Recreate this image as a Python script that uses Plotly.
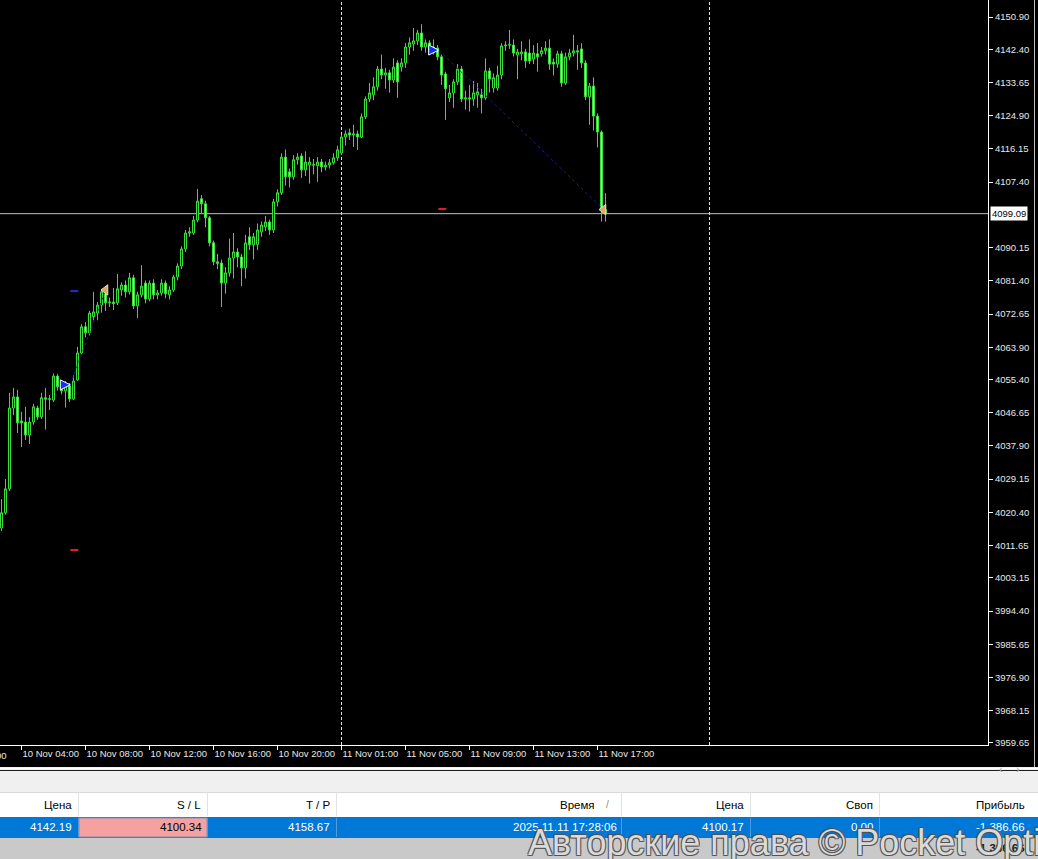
import plotly.graph_objects as go

# ---------------- data ----------------
opens = [4016.3,4020.3,4026.6,4047.9,4050.8,4044.5,4044.2,4040.8,4044.2,4047.9,
         4045.6,4050.6,4050.2,4050.0,4056.3,4054.0,4052.4,4053.7,4050.3,4055.3,
         4062.4,4069.3,4067.7,4072.0,4072.9,4075.0,4078.5,4075.6,4075.8,4075.6,
         4079.0,4080.3,4078.5,4082.2,4074.8,4077.7,4080.8,4076.6,4080.8,4077.7,
         4078.2,4080.8,4077.7,4079.0,4082.4,4085.3,4089.8,4094.0,4094.0,4097.4,
         4103.0,4101.7,4098.0,4091.4,4086.4,4086.1,4080.8,4083.5,4087.4,4089.0,
         4087.7,4084.8,4093.0,4090.9,4091.0,4094.3,4095.6,4096.9,4094.8,4102.2,
         4104.6,4114.0,4110.1,4108.8,4113.3,4114.3,4110.6,4111.9,4112.0,4111.7,
         4112.7,4111.4,4111.9,4112.5,4113.8,4115.1,4119.3,4120.4,4119.8,4120.1,
         4119.3,4124.6,4129.3,4130.4,4132.5,4137.2,4135.6,4136.2,4134.3,4138.8,
         4137.7,4138.8,4143.0,4143.8,4144.6,4146.7,4143.0,4144.1,4141.7,4142.7,
         4140.4,4135.9,4129.6,4130.9,4133.8,4137.2,4129.3,4129.6,4129.3,4130.4,
         4130.4,4129.6,4136.7,4132.2,4132.2,4135.6,4143.3,4143.5,4143.5,4140.9,
         4141.2,4141.7,4141.4,4139.8,4141.2,4141.2,4142.0,4142.7,4139.0,4138.5,
         4141.2,4133.5,4140.4,4141.4,4142.0,4142.5,4138.8,4129.9,4132.7,4124.8,
         4120.6,4100.1]
highs = [4023.9,4029.2,4051.9,4053.2,4052.7,4046.9,4048.2,4045.5,4049.0,4048.5,
         4051.9,4053.2,4051.3,4057.0,4056.9,4054.5,4055.0,4054.5,4056.5,4064.0,
         4070.0,4070.5,4073.5,4078.5,4075.8,4079.3,4080.0,4077.0,4079.5,4083.2,
         4081.0,4081.5,4083.5,4083.0,4078.5,4085.5,4081.5,4081.5,4081.8,4079.0,
         4081.8,4081.5,4080.0,4083.0,4086.0,4090.5,4094.8,4095.5,4098.5,4105.6,
         4104.0,4102.5,4098.5,4092.0,4088.5,4087.0,4085.0,4092.5,4094.0,4090.0,
         4088.5,4093.5,4095.5,4094.0,4096.5,4097.0,4098.5,4097.5,4103.0,4105.5,
         4115.0,4116.0,4111.0,4114.5,4115.0,4115.0,4115.5,4114.0,4113.5,4114.0,
         4113.5,4112.8,4113.5,4115.0,4117.0,4120.0,4121.0,4121.5,4122.5,4121.0,
         4125.5,4130.0,4133.5,4135.0,4138.0,4141.0,4137.5,4137.0,4140.0,4139.5,
         4140.0,4144.0,4145.5,4148.0,4147.5,4149.0,4145.0,4144.8,4145.0,4143.5,
         4141.0,4136.5,4133.0,4134.5,4138.5,4138.0,4131.5,4133.0,4134.0,4133.5,
         4132.0,4140.0,4137.5,4136.0,4138.0,4144.0,4144.5,4147.5,4145.0,4142.5,
         4144.5,4142.5,4145.0,4143.5,4144.0,4143.0,4144.5,4145.0,4140.0,4142.0,
         4142.0,4141.5,4142.5,4146.2,4143.5,4144.0,4139.5,4133.5,4135.0,4125.5,
         4121.0,4104.5]
lows = [4015.5,4019.8,4026.0,4046.0,4041.3,4037.6,4039.5,4038.4,4043.5,4044.8,
        4045.0,4042.2,4047.4,4049.5,4052.5,4051.5,4048.0,4049.5,4050.0,4055.0,
        4062.0,4066.5,4067.0,4071.0,4071.0,4073.0,4073.5,4074.5,4073.7,4075.0,
        4077.5,4077.0,4077.8,4074.0,4071.6,4077.0,4075.5,4076.0,4076.5,4076.5,
        4077.5,4076.8,4076.5,4078.5,4081.5,4084.5,4089.0,4093.0,4093.5,4096.8,
        4099.0,4095.5,4090.5,4085.5,4084.5,4074.5,4078.0,4082.5,4082.0,4085.0,
        4080.0,4082.0,4089.5,4087.0,4089.5,4093.0,4094.5,4093.5,4094.0,4101.0,
        4104.0,4106.5,4106.0,4108.0,4112.0,4108.5,4109.0,4107.0,4109.5,4107.5,
        4110.0,4110.5,4111.0,4112.0,4113.0,4114.5,4117.0,4118.5,4116.7,4115.9,
        4119.0,4124.0,4128.5,4129.0,4131.5,4134.5,4132.0,4131.0,4133.5,4129.6,
        4136.5,4137.5,4141.0,4142.0,4143.5,4142.0,4141.5,4141.0,4141.0,4139.5,
        4133.0,4123.8,4128.5,4127.0,4133.0,4128.5,4126.5,4126.0,4127.5,4127.0,
        4125.5,4129.0,4131.0,4131.0,4131.5,4134.5,4142.0,4142.5,4140.5,4134.5,
        4139.5,4137.5,4138.5,4138.5,4136.5,4140.5,4141.0,4137.0,4135.5,4137.5,
        4132.5,4133.0,4139.5,4140.5,4137.0,4137.5,4129.0,4122.5,4121.0,4116.5,
        4097.0,4097.0]
closes = [4020.3,4026.6,4047.9,4050.8,4044.0,4044.0,4040.8,4044.2,4048.2,4045.6,
          4050.6,4050.2,4050.3,4056.3,4053.5,4052.4,4054.2,4050.3,4055.0,4062.4,
          4069.3,4067.7,4072.9,4073.2,4075.0,4078.5,4075.6,4075.8,4075.4,4079.3,
          4080.3,4078.5,4082.2,4074.8,4077.7,4080.0,4076.6,4080.8,4077.7,4078.2,
          4080.8,4078.0,4079.0,4082.4,4085.3,4089.8,4094.0,4094.3,4097.4,4102.4,
          4101.7,4098.0,4091.4,4086.4,4086.0,4080.8,4083.5,4087.4,4089.0,4087.7,
          4084.8,4091.4,4090.9,4093.0,4094.8,4096.1,4096.9,4094.8,4102.2,4104.6,
          4114.0,4108.8,4108.8,4113.3,4114.0,4110.6,4112.7,4112.7,4111.9,4112.7,
          4111.4,4111.9,4112.5,4113.8,4115.9,4119.3,4120.1,4119.8,4120.1,4119.3,
          4124.6,4129.3,4130.9,4132.5,4137.2,4135.6,4136.2,4134.3,4137.7,4133.8,
          4138.8,4143.0,4144.1,4144.6,4146.7,4143.0,4144.1,4141.7,4143.0,4140.4,
          4135.6,4132.0,4130.9,4133.8,4137.2,4129.3,4129.6,4129.3,4130.9,4131.2,
          4129.6,4136.7,4134.6,4134.9,4135.6,4143.3,4143.5,4143.6,4141.4,4141.7,
          4141.7,4139.3,4139.3,4141.4,4140.4,4142.0,4142.7,4138.5,4138.5,4141.2,
          4133.5,4140.4,4141.4,4142.0,4141.7,4138.8,4129.9,4132.7,4124.8,4120.6,
          4100.1,4099.1]
bar_index = list(range(len(opens)))

x_tick_index = [5, 21, 37, 53, 69, 85, 101, 117, 133, 149]
x_tick_labels = ["10 Nov 04:00", "10 Nov 08:00", "10 Nov 12:00", "10 Nov 16:00",
                 "10 Nov 20:00", "11 Nov 01:00", "11 Nov 05:00", "11 Nov 09:00",
                 "11 Nov 13:00", "11 Nov 17:00"]
y_tick_values = [4150.90, 4142.40, 4133.65, 4124.90, 4116.15, 4107.40, 4090.15,
                 4081.40, 4072.65, 4063.90, 4055.40, 4046.65, 4037.90, 4029.15,
                 4020.40, 4011.65, 4003.15, 3994.40, 3985.65, 3976.90, 3968.15, 3959.65]
y_tick_labels = [f"{v:.2f}" for v in y_tick_values]
day_separator_index = [85, 177]
current_price = 4099.09

# trades: entry index/price, exit index/price, tp, sl
trade_entry_x = [17.2, 109.3]
trade_entry_y = [4054.0, 4142.19]
trade_exit_x = [26.0, 150.5]
trade_exit_y = [4079.0, 4100.17]
tp_marks = [(18.0, 4078.7)]
sl_marks = [(18.0, 4010.5), (110.0, 4100.34)]

table_headers = ["Цена", "S / L", "T / P", "Время", "Цена", "Своп", "Прибыль"]
table_row = ["4142.19", "4100.34", "4158.67", "2025.11.11 17:28:06", "4100.17", "0.00", "-1 386.66"]
total_profit = "-1 386.66"

# ---------------- layout helpers ----------------
W, H = 1038, 859
PW, PH = 988, 745   # plot area size in px (top-left anchored)
def px(X):
    return X / PW
def py(Y):
    return (PH - Y) / PH

GREEN = "#3ade3a"
fig = go.Figure()
fig.add_trace(go.Candlestick(
    x=bar_index, open=opens, high=highs, low=lows, close=closes,
    increasing=dict(line=dict(color=GREEN, width=1), fillcolor="#000000"),
    decreasing=dict(line=dict(color=GREEN, width=1), fillcolor="#b4f2a8"),
    whiskerwidth=0, hoverinfo="skip", showlegend=False))

# trade connecting dotted lines
for ex, ey, xx, xy in zip(trade_entry_x, trade_entry_y, trade_exit_x, trade_exit_y):
    fig.add_trace(go.Scatter(x=[ex, xx], y=[ey, xy], mode="lines",
                             line=dict(color="#1a1ab0", width=1, dash="dot"),
                             hoverinfo="skip", showlegend=False))
fig.add_trace(go.Scatter(x=trade_entry_x, y=trade_entry_y, mode="markers",
                         marker=dict(symbol="arrow-right", size=10, color="#1030ff",
                                     line=dict(color="white", width=1)),
                         hoverinfo="skip", showlegend=False))
fig.add_trace(go.Scatter(x=trade_exit_x, y=trade_exit_y, mode="markers",
                         marker=dict(symbol="triangle-left", size=9, color="#d8a860",
                                     line=dict(color="#f0e0c0", width=1)),
                         hoverinfo="skip", showlegend=False))

shapes = []
for xi, yv in tp_marks:
    shapes.append(dict(type="line", xref="x", yref="y", x0=xi - 0.8, x1=xi + 1.2, y0=yv, y1=yv,
                       line=dict(color="#2a2ad0", width=2)))
for xi, yv in sl_marks:
    shapes.append(dict(type="line", xref="x", yref="y", x0=xi - 0.8, x1=xi + 1.2, y0=yv, y1=yv,
                       line=dict(color="#e02020", width=2)))
# current price line
shapes.append(dict(type="line", xref="paper", yref="y", x0=0, x1=1, y0=current_price, y1=current_price,
                   line=dict(color="#c0c0c0", width=1), layer="below"))
# day separators
for d in day_separator_index:
    shapes.append(dict(type="line", xref="x", yref="paper", x0=d, x1=d, y0=0, y1=1,
                       line=dict(color="#e0e0e0", width=1, dash="3px,2px"), layer="below"))
# right window edge
shapes.append(dict(type="line", xref="paper", yref="paper", x0=px(1034.5), x1=px(1034.5), y0=py(767), y1=1,
                   line=dict(color="#bdbdbd", width=1)))

# bottom panel
def rect(x0, y0, x1, y1, fill, line=None):
    shapes.append(dict(type="rect", xref="paper", yref="paper", x0=px(x0), x1=px(x1),
                       y0=py(y1), y1=py(y0), fillcolor=fill,
                       line=dict(width=0) if line is None else line, layer="above"))
rect(-2, 767, 1040, 792, "#f0f0f0")
shapes.append(dict(type="line", xref="paper", yref="paper", x0=px(-2), x1=px(1040), y0=py(768.5), y1=py(768.5),
                   line=dict(color="#ffffff", width=1)))
shapes.append(dict(type="line", xref="paper", yref="paper", x0=px(-2), x1=px(1040), y0=py(770.5), y1=py(770.5),
                   line=dict(color="#202020", width=1)))
rect(-2, 792, 1040, 817, "#ffffff")
shapes.append(dict(type="line", xref="paper", yref="paper", x0=px(-2), x1=px(1040), y0=py(792.5), y1=py(792.5),
                   line=dict(color="#d8d8d8", width=1)))
rect(-2, 817, 1040, 838, "#0078d7")
rect(-2, 838, 1040, 862, "#c9c9c9")
col_sep = [78, 207, 336, 621, 750, 879]
for cx in col_sep:
    shapes.append(dict(type="line", xref="paper", yref="paper", x0=px(cx + 0.5), x1=px(cx + 0.5),
                       y0=py(816), y1=py(793), line=dict(color="#e3e3e3", width=1)))
    shapes.append(dict(type="line", xref="paper", yref="paper", x0=px(cx + 0.5), x1=px(cx + 0.5),
                       y0=py(837), y1=py(818), line=dict(color="#4d9be0", width=1)))
rect(79, 818, 207, 837, "#f6a0a0", line=dict(color="#7a8ec0", width=1))

annotations = []
FONT = "Liberation Sans, Arial, sans-serif"
# x tick label fragment at the left edge
annotations.append(dict(xref="paper", yref="paper", x=px(9), y=py(755), xanchor="right", yanchor="middle",
                        text="10 Nov 00:00", showarrow=False, font=dict(family=FONT, size=9.5, color="#e8e8e8")))
# current price label
annotations.append(dict(xref="paper", yref="y", x=px(990), y=current_price, xanchor="left", yanchor="middle",
                        text="4099.09", showarrow=False, bgcolor="#ffffff", borderpad=1,
                        font=dict(family=FONT, size=9.5, color="#000000")))
# scroll arrows
annotations.append(dict(xref="paper", yref="paper", x=px(1005), y=py(777), text="‹", showarrow=False,
                        font=dict(family=FONT, size=11, color="#a8a8a8")))
annotations.append(dict(xref="paper", yref="paper", x=px(1022), y=py(777), text="›", showarrow=False,
                        font=dict(family=FONT, size=11, color="#a8a8a8")))
header_right = [74, 203, 332, 597, 746, 875, 1027]
for txt, xr in zip(table_headers, header_right):
    annotations.append(dict(xref="paper", yref="paper", x=px(xr), y=py(805), xanchor="right", yanchor="middle",
                            text=txt, showarrow=False, font=dict(family=FONT, size=11.5, color="#000000")))
annotations.append(dict(xref="paper", yref="paper", x=px(611), y=py(805), xanchor="right", yanchor="middle",
                        text="/", showarrow=False, font=dict(family=FONT, size=10, color="#8a8a8a")))
row_right = [74, 204, 332, 619, 746, 875, 1027]
for k, (txt, xr) in enumerate(zip(table_row, row_right)):
    annotations.append(dict(xref="paper", yref="paper", x=px(xr), y=py(827), xanchor="right", yanchor="middle",
                            text=txt, showarrow=False,
                            font=dict(family=FONT, size=11.5, color="#000000" if k == 1 else "#ffffff")))
annotations.append(dict(xref="paper", yref="paper", x=px(1027), y=py(848), xanchor="right", yanchor="middle",
                        text="<b>" + total_profit + "</b>", showarrow=False,
                        font=dict(family=FONT, size=11.5, color="#202020")))
# watermark
annotations.append(dict(xref="paper", yref="paper", x=px(526), y=py(842), xanchor="left", yanchor="middle",
                        text="Авторские права © Pocket Option", showarrow=False,
                        font=dict(family=FONT, size=36, color="rgba(238,238,238,0.88)",
                                  shadow="1px 1px 0 #505050, -1px -1px 0 #505050, 1px -1px 0 #505050, -1px 1px 0 #505050")))

fig.update_layout(
    width=W, height=H, template="none",
    margin=dict(l=0, r=W - PW, t=0, b=H - PH, pad=0),
    paper_bgcolor="#000000", plot_bgcolor="#000000",
    showlegend=False, hovermode=False, boxgap=0.5, boxgroupgap=0,
    shapes=shapes, annotations=annotations,
    xaxis=dict(range=[-0.375, 246.625], rangeslider=dict(visible=False), showgrid=False, zeroline=False,
               showline=True, linecolor="#ffffff", linewidth=1, ticks="outside", ticklen=4,
               tickcolor="#ffffff", tickvals=x_tick_index, ticktext=x_tick_labels, tickangle=0,
               ticklabelposition="outside right", automargin=False,
               tickfont=dict(family=FONT, size=9.5, color="#e8e8e8")),
    yaxis=dict(range=[3959.12, 4155.38], side="right", showgrid=False, zeroline=False,
               showline=True, linecolor="#ffffff", linewidth=1, ticks="outside", ticklen=4,
               tickcolor="#ffffff", tickvals=y_tick_values, ticktext=y_tick_labels, automargin=False,
               tickfont=dict(family=FONT, size=9.5, color="#e8e8e8")),
)

fig.write_html("out.html", config={"displayModeBar": False},
               post_script="document.body.style.margin='0px';document.body.style.overflow='hidden';")
